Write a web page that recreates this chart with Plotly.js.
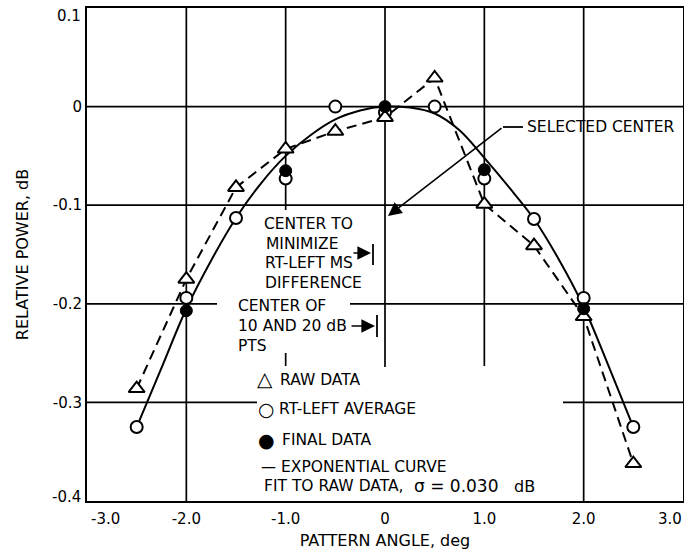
<!DOCTYPE html>
<html>
<head>
<meta charset="utf-8">
<script src="https://cdn.plot.ly/plotly-3.0.1.min.js"></script>
<style>html,body{margin:0;padding:0;background:#fff;}#chart{width:684px;height:558px;}</style>
</head>
<body>
<div id="chart"></div>
<script>
// ---- data ----
const angles = [-2.5, -2.0, -1.5, -1.0, -0.5, 0.0, 0.5, 1.0, 1.5, 2.0, 2.5];
const rawData = [-0.286, -0.175, -0.082, -0.043, -0.025, -0.011, 0.029, -0.099, -0.141, -0.213, -0.362];
const rtLeftAverage = [-0.325, -0.194, -0.113, -0.073, 0.000, -0.006, 0.000, -0.073, -0.114, -0.194, -0.325];
const finalAngles = [-2.0, -1.0, 0.0, 1.0, 2.0];
const finalData = [-0.207, -0.065, 0.000, -0.064, -0.205];
const fitAngles = [-2.5, -2.25, -2.0, -1.75, -1.5, -1.25, -1.0, -0.75, -0.5, -0.25, 0.0, 0.25, 0.5, 0.75, 1.0, 1.25, 1.5, 1.75, 2.0, 2.25, 2.5];
const fitCurve = [-0.325, -0.265, -0.205, -0.156, -0.113, -0.078, -0.050, -0.029, -0.013, -0.004, 0.000, -0.001, -0.007, -0.024, -0.052, -0.082, -0.114, -0.155, -0.203, -0.263, -0.325];
const xTickVals = [-3, -2, -1, 0, 1, 2, 3];
const xTickText = ['-3.0', '-2.0', '-1.0', '0', '1.0', '2.0', '3.0'];
const yTickVals = [0.1, 0, -0.1, -0.2, -0.3, -0.4];
const yTickText = ['0.1', '0', '-0.1', '-0.2', '-0.3', '-0.4'];

// ---- layout helpers (pixel -> paper) ----
const L = 87, T = 8, W = 596, H = 493;
const R = L + W, B = T + H;
const PX = p => (p - L) / W;
const PY = p => (B - p) / H;
const FONT = 'DejaVu Sans, sans-serif';

const traces = [
  {x: fitAngles, y: fitCurve, mode: 'lines', line: {color: 'black', width: 2, shape: 'spline'}, hoverinfo: 'skip'},
  {x: angles, y: rawData, mode: 'lines', line: {color: 'black', width: 2, dash: '10px,6px'}, hoverinfo: 'skip'},
  {x: angles, y: rtLeftAverage, mode: 'markers', marker: {symbol: 'circle', size: 12, color: 'white', line: {color: 'black', width: 2}}},
  {x: angles, y: rawData, mode: 'markers', marker: {symbol: 'triangle-up', size: 14, color: 'white', line: {color: 'black', width: 2}}},
  {x: finalAngles, y: finalData, mode: 'markers', marker: {symbol: 'circle', size: 12, color: 'black', line: {color: 'black', width: 1}}}
];

function txt(text, px, py, size, anchor) {
  return {text: text, xref: 'paper', yref: 'paper', x: PX(px), y: PY(py), xanchor: anchor || 'left', yanchor: 'middle',
          showarrow: false, font: {family: FONT, size: size || 15.5, color: 'black'}};
}
function arrow(hx, hy, ax, ay) {
  return {text: '', xref: 'paper', yref: 'paper', x: PX(hx), y: PY(hy), ax: ax, ay: ay, showarrow: true,
          arrowhead: 2, arrowsize: 1.7, arrowwidth: 1.6, arrowcolor: 'black', standoff: 0};
}
function seg(x0, y0, x1, y1) {
  return {type: 'line', xref: 'paper', yref: 'paper', x0: PX(x0), y0: PY(y0), x1: PX(x1), y1: PY(y1),
          line: {color: 'black', width: 1.8}, layer: 'above'};
}

// gridlines, broken where the text sits (pixel extents)
const shapes = [];
const GRID = {color: 'black', width: 1.7};
function hGrid(v, parts) { parts.forEach(p => shapes.push({type: 'line', xref: 'paper', yref: 'y', x0: PX(p[0]), x1: PX(p[1]), y0: v, y1: v, line: GRID, layer: 'below'})); }
function vGrid(v, parts) { parts.forEach(p => shapes.push({type: 'line', xref: 'x', yref: 'paper', x0: v, x1: v, y0: PY(p[1]), y1: PY(p[0]), line: GRID, layer: 'below'})); }
hGrid(yTickVals[1], [[L, R]]);
hGrid(yTickVals[2], [[L, R]]);
hGrid(yTickVals[3], [[L, 217], [350, R]]);
hGrid(yTickVals[4], [[L, 257], [563, R]]);
vGrid(xTickVals[1], [[T, B]]);
vGrid(xTickVals[2], [[T, 210], [353, 366]]);
vGrid(xTickVals[3], [[T, 367]]);
vGrid(xTickVals[4], [[T, 366]]);
vGrid(xTickVals[5], [[T, B]]);
shapes.push(seg(503, 127, 523, 127), seg(373, 244, 373, 265), seg(377, 315, 377, 337));

const TICKFONT = {family: FONT, size: 15, color: 'black'};
function tickLabel(text, px, py, anchor) {
  return {text: text, xref: 'paper', yref: 'paper', x: PX(px), y: PY(py), xanchor: anchor, yanchor: 'middle',
          showarrow: false, font: TICKFONT};
}

const n = yTickVals.length, m = xTickVals.length;
const annotations = [
  // end tick labels sit nudged inward in the reference
  tickLabel(yTickText[0], 83, 16, 'right'),
  tickLabel(yTickText[n - 1], 83, 497, 'right'),
  tickLabel(xTickText[0], 105, 519, 'center'),
  tickLabel(xTickText[m - 1], 670, 519, 'center'),
  txt('SELECTED CENTER', 525, 127),
  arrow(388, 216, 115, -89),
  txt('CENTER TO', 262, 224),
  txt('MINIMIZE', 264, 244),
  txt('RT-LEFT MS', 263, 263),
  txt('DIFFERENCE', 263, 283),
  txt('CENTER OF', 236, 306),
  txt('10 AND 20 dB', 236, 326),
  txt('PTS', 236, 346),
  arrow(371, 253, -19, 0),
  arrow(375, 326, -25, 0),
  txt('\u25B3', 265, 379, 20, 'center'),
  txt('RAW DATA', 278, 380),
  txt('\u25CB', 266, 409, 19, 'center'),
  txt('RT-LEFT AVERAGE', 277, 409),
  txt('\u25CF', 266, 440, 19, 'center'),
  txt('FINAL DATA', 280, 440),
  txt('\u2014', 268, 467, 15, 'center'),
  txt('EXPONENTIAL CURVE', 279, 467),
  txt('FIT TO RAW DATA,', 262, 486),
  txt('\u03C3 = 0.030', 412, 486, 17),
  txt('dB', 512, 486, 16)
];

const axisCommon = {
  showgrid: false, zeroline: false,
  showline: true, linecolor: 'black', linewidth: 2, mirror: true, ticks: '',
  tickfont: TICKFONT, tickmode: 'array'
};

const layout = {
  width: 684, height: 558,
  margin: {l: L, r: 684 - R, t: T, b: 558 - B},
  paper_bgcolor: 'white', plot_bgcolor: 'white',
  showlegend: false,
  xaxis: Object.assign({}, axisCommon, {range: [-3, 3], tickvals: xTickVals.slice(1, -1), ticktext: xTickText.slice(1, -1), ticklabelstandoff: 3,
    title: {text: 'PATTERN ANGLE, deg', font: {family: FONT, size: 16, color: 'black'}, standoff: 8}}),
  yaxis: Object.assign({}, axisCommon, {range: [-0.4, 0.1], tickvals: yTickVals.slice(1, -1), ticktext: yTickText.slice(1, -1), ticklabelstandoff: 0,
    title: {text: 'RELATIVE POWER, dB', font: {family: FONT, size: 16, color: 'black'}, standoff: 20}}),
  annotations: annotations,
  shapes: shapes
};

Plotly.newPlot('chart', traces, layout, {staticPlot: true, displayModeBar: false});
</script>
</body>
</html>
